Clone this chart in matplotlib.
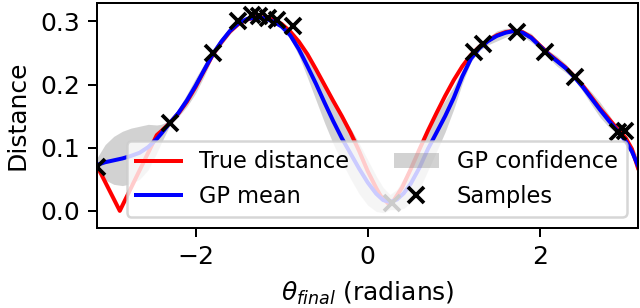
import matplotlib
matplotlib.use('Agg')
import matplotlib.pyplot as plt
import numpy as np

# true distance
true_x = [-3.14, -2.88, -2.45, -2.40, -2.30, -2.20, -2.10, -2.00, -1.90, -1.80,
          -1.70, -1.60, -1.50, -1.40, -1.30, -1.20, -1.10, -1.00, -0.90, -0.80,
          -0.70, -0.60, -0.50, -0.40, -0.30, -0.20, -0.10, 0.00, 0.10, 0.15,
          0.25, 0.30, 0.40, 0.50, 0.60, 0.70, 0.80, 0.90, 1.00, 1.10,
          1.20, 1.30, 1.40, 1.50, 1.60, 1.70, 1.80, 1.90, 2.00, 2.10,
          2.20, 2.30, 2.40, 2.50, 2.60, 2.70, 2.80, 2.90, 3.00, 3.07,
          3.14]
true_y = [0.070, 0.000, 0.120, 0.126, 0.139, 0.154, 0.173, 0.196, 0.222, 0.247,
          0.267, 0.284, 0.296, 0.303, 0.307, 0.306, 0.303, 0.296, 0.284, 0.268,
          0.248, 0.224, 0.199, 0.174, 0.150, 0.124, 0.095, 0.063, 0.036, 0.024,
          0.010, 0.016, 0.037, 0.066, 0.097, 0.127, 0.155, 0.182, 0.207, 0.229,
          0.247, 0.260, 0.270, 0.278, 0.283, 0.285, 0.283, 0.275, 0.262, 0.249,
          0.238, 0.227, 0.213, 0.198, 0.180, 0.162, 0.146, 0.130, 0.115, 0.098,
          0.068]

# GP posterior mean and spread
gp_x = [-3.14, -3.05, -2.95, -2.85, -2.75, -2.65, -2.55, -2.45, -2.40, -2.30,
        -2.20, -2.10, -2.00, -1.90, -1.80, -1.70, -1.60, -1.50, -1.40, -1.30,
        -1.20, -1.10, -1.00, -0.90, -0.80, -0.70, -0.60, -0.50, -0.40, -0.30,
        -0.20, -0.10, 0.00, 0.10, 0.18, 0.26, 0.34, 0.42, 0.50, 0.60,
        0.70, 0.80, 0.90, 1.00, 1.10, 1.20, 1.30, 1.40, 1.50, 1.60,
        1.70, 1.80, 1.90, 2.00, 2.10, 2.20, 2.30, 2.40, 2.50, 2.60,
        2.70, 2.80, 2.90, 3.00, 3.07, 3.14]
gp_mean = [0.073, 0.077, 0.080, 0.083, 0.087, 0.092, 0.101, 0.114, 0.122, 0.139,
           0.155, 0.175, 0.198, 0.223, 0.248, 0.268, 0.285, 0.297, 0.304, 0.306,
           0.305, 0.300, 0.292, 0.278, 0.256, 0.229, 0.201, 0.171, 0.142, 0.115,
           0.091, 0.067, 0.045, 0.027, 0.017, 0.014, 0.018, 0.028, 0.043, 0.068,
           0.098, 0.124, 0.150, 0.179, 0.213, 0.241, 0.258, 0.269, 0.277, 0.282,
           0.285, 0.282, 0.274, 0.261, 0.248, 0.237, 0.226, 0.212, 0.196, 0.178,
           0.160, 0.143, 0.127, 0.110, 0.094, 0.072]
gp_std = [0.012, 0.028, 0.038, 0.043, 0.044, 0.042, 0.036, 0.022, 0.015, 0.004,
          0.006, 0.010, 0.012, 0.010, 0.005, 0.006, 0.005, 0.003, 0.003, 0.003,
          0.003, 0.003, 0.004, 0.005, 0.010, 0.018, 0.026, 0.032, 0.036, 0.038,
          0.040, 0.040, 0.036, 0.028, 0.020, 0.012, 0.016, 0.024, 0.030, 0.034,
          0.034, 0.030, 0.025, 0.018, 0.011, 0.005, 0.004, 0.006, 0.008, 0.007,
          0.004, 0.005, 0.007, 0.005, 0.006, 0.008, 0.007, 0.004, 0.007, 0.010,
          0.012, 0.010, 0.005, 0.004, 0.008, 0.014]

# samples
samp_x = [-3.14, -2.30, -1.80, -1.51, -1.34, -1.26, -1.16, -1.05, -0.87, 0.28,
          1.24, 1.34, 1.73, 2.06, 2.41, 2.91, 2.99]
samp_y = [0.070, 0.139, 0.250, 0.300, 0.310, 0.308, 0.305, 0.302, 0.293, 0.013,
          0.251, 0.265, 0.283, 0.251, 0.212, 0.125, 0.126]

gp_mean = np.array(gp_mean)
gp_std = np.array(gp_std)

fig = plt.figure(figsize=(640/180, 308/180), dpi=180)
ax = fig.add_axes([0.152, 0.26, 0.845, 0.73])

ax.fill_between(gp_x, gp_mean - gp_std, gp_mean + gp_std, color='gray', alpha=0.35,
                lw=0, label='GP confidence')
ax.plot(true_x, true_y, 'r-', lw=1.6, label='True distance')
ax.plot(gp_x, gp_mean, 'b-', lw=1.6, label='GP mean')
ax.plot(samp_x, samp_y, 'kx', ms=6.5, mew=1.5, label='Samples')

ax.set_xlim(-np.pi, np.pi)
ax.set_ylim(-0.027, 0.329)
ax.set_xticks([-2, 0, 2])
ax.set_yticks([0.0, 0.1, 0.2, 0.3])
ax.set_xlabel(r'$\theta_{final}$ (radians)')
ax.set_ylabel('Distance')

h, l = ax.get_legend_handles_labels()
order = [1, 2, 0, 3]
ax.legend([h[i] for i in order], [l[i] for i in order], ncol=2, loc='lower right',
          fontsize=9)

fig.savefig('out.png', dpi=180)
